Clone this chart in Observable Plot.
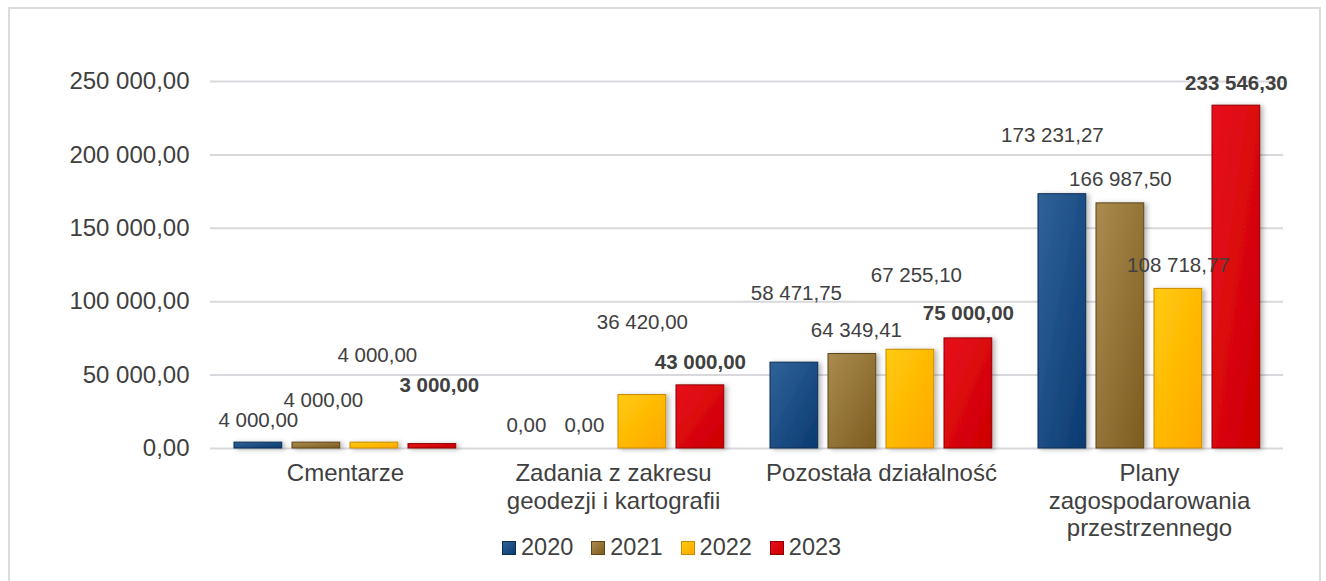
<!DOCTYPE html>
<html>
<head>
<meta charset="utf-8">
<script src="https://cdn.jsdelivr.net/npm/d3@7"></script>
<script src="https://cdn.jsdelivr.net/npm/@observablehq/plot@0.6"></script>
<style>
  html, body { margin: 0; padding: 0; background: #fff; }
  body { width: 1326px; height: 581px; overflow: hidden; font-family: "Liberation Sans", Arial, sans-serif; }
  #wrap { position: relative; width: 1326px; height: 581px; }
  #frame { position: absolute; left: 8px; top: 7px; width: 1313px; height: 600px; border: 2px solid #dcdce0; box-sizing: border-box; pointer-events: none; }
  #legend { position: absolute; left: 502px; top: 534px; display: flex; align-items: center; font-size: 23.5px; color: #404040; }
  .item { display: flex; align-items: center; margin-right: 18px; }
  .item svg { margin-right: 5px; }
</style>
</head>
<body>
<svg width="0" height="0" style="position:absolute">
  <defs>
    <linearGradient id="g2020" x1="0" y1="0" x2="1" y2="1"><stop offset="0" stop-color="#30639a"/><stop offset="1" stop-color="#0a3a70"/></linearGradient>
    <linearGradient id="g2021" x1="0" y1="0" x2="1" y2="1"><stop offset="0" stop-color="#ab8c4e"/><stop offset="1" stop-color="#7c5c20"/></linearGradient>
    <linearGradient id="g2022" x1="0" y1="0" x2="1" y2="1"><stop offset="0" stop-color="#ffcb0a"/><stop offset="1" stop-color="#ffa800"/></linearGradient>
    <linearGradient id="g2023" x1="0" y1="0" x2="1" y2="1"><stop offset="0" stop-color="#e80e1c"/><stop offset="1" stop-color="#cc0000"/></linearGradient>
    <filter id="shadow" x="-20%" y="-20%" width="150%" height="150%">
      <feDropShadow dx="3" dy="1" stdDeviation="2.5" flood-color="#000" flood-opacity="0.28"/>
    </filter>
  </defs>
</svg>
<div id="wrap">
  <div id="chart"></div>
  <div id="frame"></div>
  <div id="legend"></div>
</div>
<script>
// ---- data ----
const categories = ["Cmentarze", "Zadania z zakresu geodezji i kartografii", "Pozostała działalność", "Plany zagospodarowania przestrzennego"];
const categoryLabels = ["Cmentarze", "Zadania z zakresu\ngeodezji i kartografii", "Pozostała działalność", "Plany\nzagospodarowania\nprzestrzennego"];
const years = ["2020", "2021", "2022", "2023"];
const values2020 = [4000.00, 0.00, 58471.75, 173231.27];
const values2021 = [4000.00, 0.00, 64349.41, 166987.50];
const values2022 = [4000.00, 36420.00, 67255.10, 108718.77];
const values2023 = [3000.00, 43000.00, 75000.00, 233546.30];
const yTicks = [0, 50000, 100000, 150000, 200000, 250000];

// ---- styles / layout (not data) ----
const gradients = {"2020": "url(#g2020)", "2021": "url(#g2021)", "2022": "url(#g2022)", "2023": "url(#g2023)"};
const strokes = {"2020": "#0c2d52", "2021": "#5e4416", "2022": "#c88a00", "2023": "#8e0000"};
const labelLift = [[22, 42, 87, 59], [23, 23, 73, 23], [69, 24, 74, 25], [59, 24, 23, 22]];
const labelShift = [[0, 7, 3, 7], [0, 0, 0, 0], [2, 4, 6, 0], [-10, 0, 0, 0]];

const W = 1326, H = 581, mL = 210, mR = 43, mT = 81, mB = 133;
const band = (W - mL - mR) / categories.length;
const barW = 48, barStep = 58, groupOff = 23;

const seriesValues = [values2020, values2021, values2022, values2023];
const rows = [];
years.forEach((yr, j) => categories.forEach((c, i) => rows.push({category: c, year: yr, value: seriesValues[j][i], ci: i, yi: j})));

const loc = d3.formatLocale({decimal: ",", thousands: "\u00a0", grouping: [3]});
const fmt = loc.format(",.2f");

const marks = [
  Plot.gridY(yTicks, {stroke: "#d9d9dd", strokeOpacity: 1, strokeWidth: 2})
];
years.forEach((yr, j) => {
  const data = rows.filter(d => d.year === yr);
  marks.push(Plot.barY(data, {
    x: "category", y: "value",
    fill: gradients[yr], stroke: strokes[yr], strokeWidth: 1,
    insetLeft: groupOff + j * barStep,
    insetRight: band - (groupOff + j * barStep + barW)
  }));
});
years.forEach((yr, j) => {
  const data = rows.filter(d => d.year === yr);
  data.forEach(d => {
    marks.push(Plot.text([d], {
      x: "category", y: "value",
      text: dd => fmt(dd.value),
      dx: -band / 2 + groupOff + j * barStep + barW / 2 + labelShift[d.ci][j],
      dy: -labelLift[d.ci][j],
      textAnchor: "middle", lineAnchor: "middle",
      fontSize: 20.5, fill: "#404040",
      fontWeight: yr === "2023" ? "bold" : "normal"
    }));
  });
});
marks.push(Plot.axisY(yTicks, {tickFormat: fmt, tickSize: 0, tickPadding: 21, fontSize: 24, fill: "#404040", label: null}));
marks.push(Plot.axisX({tickSize: 0, tickPadding: 13, fontSize: 24, lineHeight: 1.15, fill: "#404040", label: null,
  tickFormat: c => categoryLabels[categories.indexOf(c)]}));

const chart = Plot.plot({
  width: W, height: H,
  marginLeft: mL, marginRight: mR, marginTop: mT, marginBottom: mB,
  style: {fontFamily: "'Liberation Sans', Arial, sans-serif", background: "transparent", overflow: "visible"},
  x: {domain: categories, padding: 0, label: null},
  y: {domain: [0, 250000], label: null},
  marks
});
d3.select(chart).selectAll('g[aria-label="bar"]').attr("filter", "url(#shadow)");
document.getElementById("chart").appendChild(chart);

// legend
const legend = document.getElementById("legend");
years.forEach(yr => {
  const it = document.createElement("div");
  it.className = "item";
  it.innerHTML = `<svg width="14" height="14"><rect x="0.5" y="0.5" width="13" height="13" fill="${gradients[yr]}" stroke="${strokes[yr]}" stroke-width="1"/></svg><span>${yr}</span>`;
  legend.appendChild(it);
});
</script>
</body>
</html>
